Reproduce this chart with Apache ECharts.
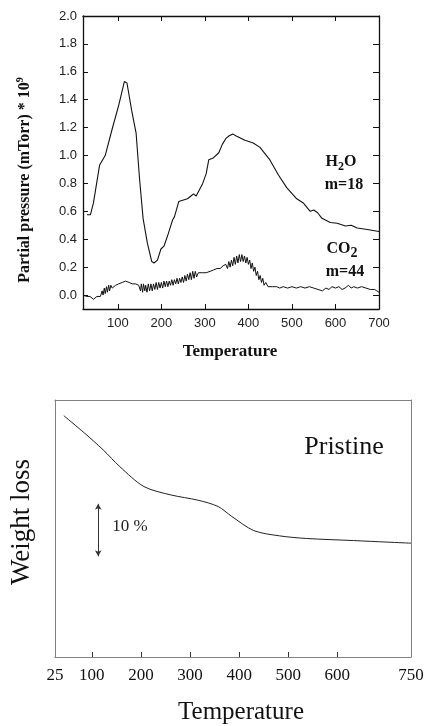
<!DOCTYPE html>
<html><head><meta charset="utf-8">
<script src="https://cdn.jsdelivr.net/npm/echarts@6/dist/echarts.min.js"></script>
<style>html,body{margin:0;padding:0;background:#fff}#c{width:425px;height:726px}</style>
</head><body><div id="c"></div>
<script>
// ---- Top panel: mass-spec partial pressure ----
const h2oTemp = [29,37,44,58,71,87,102,115,121,132,142,150,158,168,178,183,191,199,206,216,226,230,240,249,260,268,274,280,295,303,309,318,332,340,349,355,364,372,392,411,426,449,469,488,511,526,542,550,559,569,588,604,623,636,650,673,700];
const h2oVal  = [0.575,0.575,0.66,0.93,1.00,1.19,1.36,1.53,1.52,1.32,1.16,0.83,0.55,0.37,0.24,0.23,0.25,0.33,0.35,0.44,0.54,0.56,0.67,0.68,0.69,0.71,0.725,0.71,0.80,0.87,0.97,0.98,1.02,1.08,1.125,1.14,1.155,1.14,1.11,1.09,1.06,0.97,0.86,0.77,0.69,0.66,0.60,0.61,0.59,0.55,0.52,0.515,0.495,0.50,0.48,0.47,0.455];

const co2Temp = [20,28,36,44,52,60,64,66,69,71,74,76,79,81,84,87,95,102,110,118,126,133,141,148,152,154,157,159,162,164,167,170,173,176,179,182,185,188,191,194,197,200,203,206,209,212,215,218,221,224,227,230,233,236,239,242,245,248,251,254,257,260,263,266,269,272,275,278,281,285,295,303,312,320,328,335,342,348,352,355,358,361,364,367,370,373,376,379,382,385,388,391,394,397,400,403,406,409,412,415,418,421,424,427,430,433,436,440,445,455,465,472,480,490,500,510,520,530,540,550,560,570,578,585,592,600,608,615,622,630,636,642,650,660,670,680,690,695,700];
const co2Val  = [0.00,-0.01,-0.01,-0.03,-0.01,-0.01,0.03,0.00,0.05,0.01,0.06,0.02,0.07,0.03,0.07,0.05,0.07,0.08,0.09,0.10,0.09,0.08,0.08,0.07,0.03,0.08,0.02,0.08,0.03,0.07,0.02,0.08,0.03,0.08,0.03,0.08,0.04,0.09,0.04,0.09,0.05,0.09,0.05,0.10,0.06,0.10,0.06,0.10,0.07,0.11,0.07,0.11,0.08,0.12,0.08,0.12,0.09,0.13,0.09,0.14,0.10,0.15,0.11,0.16,0.11,0.17,0.12,0.17,0.13,0.16,0.16,0.16,0.17,0.18,0.19,0.19,0.21,0.22,0.19,0.24,0.20,0.25,0.21,0.27,0.22,0.28,0.23,0.29,0.24,0.29,0.24,0.28,0.23,0.27,0.22,0.25,0.19,0.23,0.17,0.20,0.14,0.17,0.11,0.14,0.09,0.12,0.07,0.09,0.06,0.06,0.06,0.05,0.06,0.05,0.06,0.05,0.06,0.05,0.06,0.05,0.04,0.03,0.05,0.04,0.06,0.05,0.06,0.04,0.05,0.07,0.05,0.06,0.05,0.06,0.05,0.04,0.04,0.03,0.02];

const topXTicks = [100,200,300,400,500,600,700];
const topXTopTicks = [100,200,300,400,500,600];
const topYTicks = [0,0.2,0.4,0.6,0.8,1.0,1.2,1.4,1.6,1.8,2.0];

// ---- Bottom panel: TGA weight loss ----
const tgaTemp   = [43,85,123,157,206,261,316,357,385,430,482,537,633,703,750];
const tgaWeight = [100,96.7,93.5,90.3,86.5,84.9,83.9,82.7,80.8,78.1,77.1,76.6,76.2,75.9,75.7];
const botXLabels = [25,100,200,300,400,500,600,750];
const botXTicks  = [100,200,300,400,500,600];
const scaleBar = [[113,83.2],[113,73.2]]; // 10 % weight

const pair = (xs, ys) => xs.map((x, i) => [x, ys[i]]);

const sans = 'Liberation Sans, Arial, sans-serif';
const serif = 'Liberation Serif, Times New Roman, serif';
const blk = '#111';
const gry = '#808080';

const chart = echarts.init(document.getElementById('c'), null, {renderer: 'canvas'});
chart.setOption({
  animation: false,
  backgroundColor: '#fff',
  grid: [
    {left: 83, top: 16, right: 46, bottom: 417, containLabel: false, outerBoundsMode: 'none'},
    {left: 55, top: 400, right: 14, bottom: 69, containLabel: false, outerBoundsMode: 'none'}
  ],
  xAxis: [
    {gridIndex: 0, type: 'value', min: 20, max: 700, position: 'bottom',
     axisLine: {show: true, onZero: false, lineStyle: {color: blk, width: 1.3}},
     axisTick: {show: true, inside: true, length: 5, customValues: topXTicks, lineStyle: {color: blk, width: 1}},
     axisLabel: {show: true, customValues: topXTicks, fontFamily: sans, fontSize: 13, color: '#222', margin: 8},
     splitLine: {show: false}},
    {gridIndex: 0, type: 'value', min: 20, max: 700, position: 'top',
     axisLine: {show: true, onZero: false, lineStyle: {color: blk, width: 1.3}},
     axisTick: {show: true, inside: true, length: 5, customValues: topXTopTicks, lineStyle: {color: blk, width: 1}},
     axisLabel: {show: false}, splitLine: {show: false}},
    {gridIndex: 1, type: 'value', min: 25, max: 750, position: 'bottom',
     axisLine: {show: true, onZero: false, lineStyle: {color: gry, width: 1}},
     axisTick: {show: true, inside: true, length: 5, customValues: botXTicks, lineStyle: {color: '#333', width: 1}},
     axisLabel: {show: true, customValues: botXLabels, fontFamily: serif, fontSize: 17, color: '#111', margin: 10},
     splitLine: {show: false}},
    {gridIndex: 1, type: 'value', min: 25, max: 750, position: 'top',
     axisLine: {show: true, onZero: false, lineStyle: {color: gry, width: 1}},
     axisTick: {show: false}, axisLabel: {show: false}, splitLine: {show: false}}
  ],
  yAxis: [
    {gridIndex: 0, type: 'value', min: -0.1, max: 2.0, position: 'left',
     axisLine: {show: true, onZero: false, lineStyle: {color: blk, width: 1.3}},
     axisTick: {show: true, inside: true, length: 5, customValues: topYTicks, lineStyle: {color: blk, width: 1}},
     axisLabel: {show: true, customValues: topYTicks, formatter: v => v.toFixed(1), fontFamily: sans, fontSize: 13, color: '#222', margin: 6},
     splitLine: {show: false}},
    {gridIndex: 0, type: 'value', min: -0.1, max: 2.0, position: 'right',
     axisLine: {show: true, onZero: false, lineStyle: {color: blk, width: 1.3}},
     axisTick: {show: true, inside: true, length: 6, customValues: topYTicks, lineStyle: {color: blk, width: 1}},
     axisLabel: {show: false}, splitLine: {show: false}},
    {gridIndex: 1, type: 'value', min: 54, max: 103, position: 'left',
     axisLine: {show: true, onZero: false, lineStyle: {color: gry, width: 1}},
     axisTick: {show: false}, axisLabel: {show: false}, splitLine: {show: false}},
    {gridIndex: 1, type: 'value', min: 54, max: 103, position: 'right',
     axisLine: {show: true, onZero: false, lineStyle: {color: gry, width: 1}},
     axisTick: {show: false}, axisLabel: {show: false}, splitLine: {show: false}}
  ],
  series: [
    {name: 'H2O m=18', type: 'line', xAxisIndex: 0, yAxisIndex: 0, data: pair(h2oTemp, h2oVal),
     showSymbol: false, symbol: 'none', lineStyle: {color: blk, width: 1.1}},
    {name: 'CO2 m=44', type: 'line', xAxisIndex: 0, yAxisIndex: 0, data: pair(co2Temp, co2Val),
     showSymbol: false, symbol: 'none', lineStyle: {color: blk, width: 1}},
    {name: 'Pristine', type: 'line', xAxisIndex: 2, yAxisIndex: 2, data: pair(tgaTemp, tgaWeight),
     showSymbol: false, symbol: 'none', smooth: 0.3, lineStyle: {color: '#222', width: 1},
     markLine: {silent: true, symbol: ['arrow', 'arrow'], symbolSize: [5, 6],
       lineStyle: {color: '#333', width: 1, type: 'solid'}, label: {show: false},
       data: [[{coord: scaleBar[0]}, {coord: scaleBar[1]}]]}}
  ],
  graphic: [
    {type: 'text', x: 24, y: 180, rotation: Math.PI / 2,
     style: {text: '{a|Partial pressure (mTorr) * 10}{s|9}', align: 'center', verticalAlign: 'middle',
       rich: {a: {fontFamily: serif, fontWeight: 'bold', fontSize: 16, lineHeight: 18, fill: '#111', verticalAlign: 'bottom'},
              s: {fontFamily: serif, fontWeight: 'bold', fontSize: 10, lineHeight: 18, fill: '#111', verticalAlign: 'top'}}}},
    {type: 'text', x: 230, y: 352,
     style: {text: 'Temperature', align: 'center', verticalAlign: 'middle', fontFamily: serif, fontWeight: 'bold', fontSize: 17, fill: '#111'}},
    {type: 'text', x: 341, y: 162,
     style: {text: '{b|H}{s|2}{b|O}', align: 'center', verticalAlign: 'middle',
       rich: {b: {fontFamily: serif, fontWeight: 'bold', fontSize: 16, lineHeight: 22, fill: '#111', verticalAlign: 'middle'},
              s: {fontFamily: serif, fontWeight: 'bold', fontSize: 12, lineHeight: 22, fill: '#111', verticalAlign: 'bottom'}}}},
    {type: 'text', x: 344, y: 184.5,
     style: {text: 'm=18', align: 'center', verticalAlign: 'middle', fontFamily: serif, fontWeight: 'bold', fontSize: 16, fill: '#111'}},
    {type: 'text', x: 342, y: 249,
     style: {text: '{b|CO}{s|2}', align: 'center', verticalAlign: 'middle',
       rich: {b: {fontFamily: serif, fontWeight: 'bold', fontSize: 16, lineHeight: 22, fill: '#111', verticalAlign: 'middle'},
              s: {fontFamily: serif, fontWeight: 'bold', fontSize: 14, lineHeight: 22, fill: '#111', verticalAlign: 'bottom'}}}},
    {type: 'text', x: 345, y: 272,
     style: {text: 'm=44', align: 'center', verticalAlign: 'middle', fontFamily: serif, fontWeight: 'bold', fontSize: 16, fill: '#111'}},
    {type: 'text', x: 22, y: 522, rotation: Math.PI / 2,
     style: {text: 'Weight loss', align: 'center', verticalAlign: 'middle', fontFamily: serif, fontSize: 27, fill: '#111'}},
    {type: 'text', x: 344, y: 447,
     style: {text: 'Pristine', align: 'center', verticalAlign: 'middle', fontFamily: serif, fontSize: 26, fill: '#111'}},
    {type: 'text', x: 130, y: 527,
     style: {text: '10 %', align: 'center', verticalAlign: 'middle', fontFamily: serif, fontSize: 17, fill: '#222'}},
    {type: 'text', x: 241, y: 712,
     style: {text: 'Temperature', align: 'center', verticalAlign: 'middle', fontFamily: serif, fontSize: 25, fill: '#111'}}
  ]
});
</script>
</body></html>
